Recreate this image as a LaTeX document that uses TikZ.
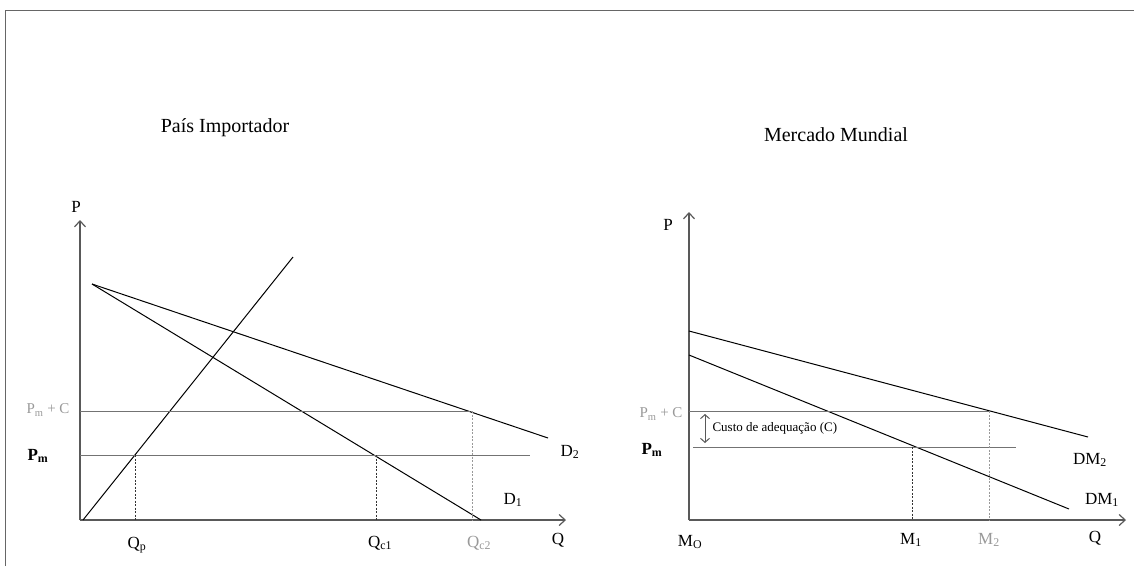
\documentclass[tikz,border=0pt]{standalone}
\usepackage{fontspec}
\setmainfont{Liberation Serif}
\usetikzlibrary{arrows.meta}

\tikzset{
  axis/.style={draw=black!65, line width=1.2pt, -{Straight Barb[length=6pt,width=11pt]}},
  curve/.style={draw=black, line width=1pt},
  level/.style={draw=black!55, line width=1pt},
  guide/.style={draw=black!80, line width=0.8pt, dash pattern=on 2pt off 1.5pt},
  greyguide/.style={guide, draw=black!40},
  lbl/.style={font=\fontsize{17}{20}\selectfont},
  greylbl/.style={lbl, text=black!40},
  pricelbl/.style={font=\fontsize{15}{18}\selectfont, text=black!40},
  heading/.style={font=\fontsize{20}{24}\selectfont},
}

\begin{document}
\begin{tikzpicture}[x=1pt,y=-1pt]
  \useasboundingbox (0,0) rectangle (1134,566);
  % moldura
  \draw[black!60, line width=1pt] (5,566) -- (5,10) -- (1134,10);

  % ---- País Importador ----
  \node[heading] (tit1) at (225,128) {País Importador};
  \coordinate (o1) at (80,520);
  \coordinate (py1) at (80,220);
  \coordinate (qx1) at (566,520);
  \draw[axis] (o1) -- (py1);
  \draw[axis] (o1) -- (qx1);
  \node[lbl] (p1) at (76,207) {P};
  \node[lbl] (q1) at (558,540) {Q};
  % oferta e demandas
  \coordinate (s0) at (83,520);
  \coordinate (s1) at (293,257);
  \coordinate (d0) at (92,284);
  \coordinate (d1) at (481,520);
  \coordinate (d2) at (548,438);
  \draw[curve] (s0) -- (s1);
  \draw[curve] (d0) -- (d1);
  \draw[curve] (d0) -- (d2);
  % precos
  \coordinate (pc0) at (80,411);
  \coordinate (pc1) at (470,411);
  \coordinate (pm0) at (80,455);
  \coordinate (pm1) at (530,455);
  \draw[level] (pc0) -- (pc1);
  \draw[level] (pm0) -- (pm1);
  % quantidades
  \coordinate (qp) at (135,455);
  \coordinate (qp0) at (135,520);
  \coordinate (qc1) at (376,455);
  \coordinate (qc10) at (376,520);
  \coordinate (qc2) at (472,411);
  \coordinate (qc20) at (472,520);
  \draw[guide] (qp) -- (qp0);
  \draw[guide] (qc1) -- (qc10);
  \draw[greyguide] (qc2) -- (qc20);
  \node[lbl] (lqp) at (137,545) {Q\textsubscript{p}};
  \node[lbl] (lqc1) at (380,543) {Q\textsubscript{c1}};
  \node[greylbl] (lqc2) at (479,543) {Q\textsubscript{c2}};
  \node[lbl] (ld2) at (570,452) {D\textsubscript{2}};
  \node[lbl] (ld1) at (513,500) {D\textsubscript{1}};
  \node[pricelbl] (lpc1) at (48,410) {P\textsubscript{m} + C};
  \node[lbl] (lpm1) at (38,456) {\textbf{P\textsubscript{m}}};

  % ---- Mercado Mundial ----
  \node[heading] (tit2) at (836,135) {Mercado Mundial};
  \coordinate (o2) at (689,520);
  \coordinate (py2) at (689,212);
  \coordinate (qx2) at (1126,520);
  \draw[axis] (o2) -- (py2);
  \draw[axis] (o2) -- (qx2);
  \node[lbl] (p2) at (668,225) {P};
  \node[lbl] (q2) at (1095,538) {Q};
  % demandas mundiais
  \coordinate (dm20) at (689,331);
  \coordinate (dm21) at (1088,437);
  \coordinate (dm10) at (689,355);
  \coordinate (dm11) at (1069,509);
  \draw[curve] (dm20) -- (dm21);
  \draw[curve] (dm10) -- (dm11);
  % precos
  \coordinate (pc2) at (689,411);
  \coordinate (pc3) at (989,411);
  \coordinate (pm2) at (693,447);
  \coordinate (pm3) at (1016,447);
  \draw[level] (pc2) -- (pc3);
  \draw[level] (pm2) -- (pm3);
  % custo de adequacao
  \coordinate (c0) at (705,414);
  \coordinate (c1) at (705,443);
  \draw[black!65, line width=1pt, {Straight Barb[length=4pt,width=9pt]}-{Straight Barb[length=4pt,width=9pt]}] (c0) -- (c1);
  \node[font=\fontsize{13}{15}\selectfont, anchor=west] (lcusto) at (709,428) {Custo de adequação (C)};
  % importacoes
  \coordinate (m1) at (912,447);
  \coordinate (m10) at (912,520);
  \coordinate (m2) at (989,411);
  \coordinate (m20) at (989,520);
  \draw[guide] (m1) -- (m10);
  \draw[greyguide] (m2) -- (m20);
  \node[lbl] (lmo) at (690,542) {M\textsubscript{O}};
  \node[lbl] (lm1) at (911,540) {M\textsubscript{1}};
  \node[greylbl] (lm2) at (989,540) {M\textsubscript{2}};
  \node[lbl] (ldm2) at (1090,460) {DM\textsubscript{2}};
  \node[lbl] (ldm1) at (1102,500) {DM\textsubscript{1}};
  \node[pricelbl] (lpc2) at (661,414) {P\textsubscript{m} + C};
  \node[lbl] (lpm2) at (652,450) {\textbf{P\textsubscript{m}}};
\end{tikzpicture}
\end{document}
